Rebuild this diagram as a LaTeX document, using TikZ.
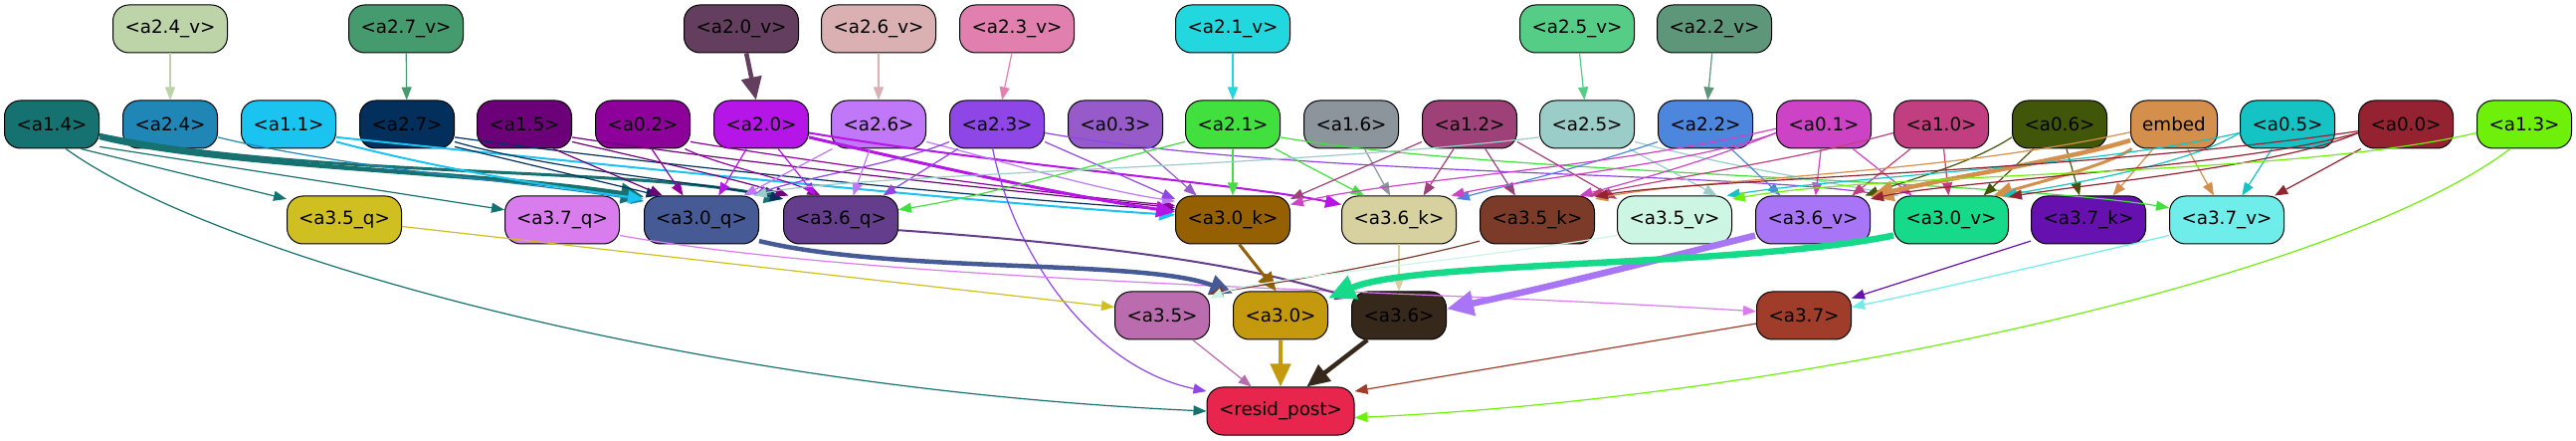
\documentclass[tikz,border=0pt]{standalone}
\usepackage{fontspec}
\setmainfont{DejaVu Sans}
\usetikzlibrary{arrows.meta}
\definecolor{c24v}{HTML}{BDD4A8}\definecolor{c27v}{HTML}{459A6E}\definecolor{c20v}{HTML}{633E5E}
\definecolor{c26v}{HTML}{DAB0B2}\definecolor{c23v}{HTML}{E17FAE}\definecolor{c21v}{HTML}{22D8DE}
\definecolor{c25v}{HTML}{55CD86}\definecolor{c22v}{HTML}{5E967A}
\definecolor{c14}{HTML}{167270}\definecolor{c24}{HTML}{1F86B5}\definecolor{c11}{HTML}{1BC3F0}
\definecolor{c27}{HTML}{022F5C}\definecolor{c15}{HTML}{6C0079}\definecolor{c02}{HTML}{8D0099}
\definecolor{c20}{HTML}{B515E6}\definecolor{c26}{HTML}{C077F8}\definecolor{c23}{HTML}{8E46E6}
\definecolor{c03}{HTML}{965BC8}\definecolor{c21}{HTML}{41E03F}\definecolor{c16}{HTML}{8C949C}
\definecolor{c12}{HTML}{9F4179}\definecolor{c25}{HTML}{9BCDC8}\definecolor{c22}{HTML}{4D86DD}
\definecolor{c01}{HTML}{CC44C5}\definecolor{c10}{HTML}{C13F81}\definecolor{c06}{HTML}{425609}
\definecolor{cem}{HTML}{D38F4B}\definecolor{c05}{HTML}{16C3C4}\definecolor{c00}{HTML}{952230}
\definecolor{c13}{HTML}{6EF00A}
\definecolor{c35q}{HTML}{CFBF20}\definecolor{c37q}{HTML}{D97CEE}\definecolor{c30q}{HTML}{465A96}
\definecolor{c36q}{HTML}{643E8C}\definecolor{c30k}{HTML}{956002}\definecolor{c36k}{HTML}{D7D1A0}
\definecolor{c35k}{HTML}{7B3B28}\definecolor{c35v}{HTML}{CDF5E4}\definecolor{c36v}{HTML}{A875F6}
\definecolor{c30v}{HTML}{17D98A}\definecolor{c37k}{HTML}{6610B0}\definecolor{c37v}{HTML}{6EEDEA}
\definecolor{c35}{HTML}{BB6CAE}\definecolor{c30}{HTML}{C5990E}\definecolor{c36}{HTML}{36291B}
\definecolor{c37}{HTML}{A03D2A}\definecolor{cres}{HTML}{E8254D}
\newcommand\nodefont{\fontsize{18.3pt}{22pt}\selectfont}
\tikzset{
 nd/.style={draw=black, line width=1pt, rounded corners=16pt, minimum height=48pt, inner sep=0pt, text=black, font=\nodefont},
 n95/.style={nd, minimum width=95pt},
 n115/.style={nd, minimum width=115pt},
 ea/.style={-{Triangle[length=13pt,width=10pt]}, line width=1.2pt},
 eb/.style={-{Triangle[length=16pt,width=13pt]}, line width=2pt},
 ec/.style={-{Triangle[length=19pt,width=16pt]}, line width=3pt},
 ed/.style={-{Triangle[length=23pt,width=20pt]}, line width=4.5pt},
 ee/.style={-{Triangle[length=27pt,width=24pt]}, line width=6.5pt},
}
\begin{document}
\begin{tikzpicture}[x=1pt,y=1pt]
\useasboundingbox (0,0) rectangle (2589,-443);
\fill[white] (0,0) rectangle (2589,-443);
% row 1
\node[n115,fill=c24v] (a24v) at (171,-29) {<a2.4\_v>};
\node[n115,fill=c27v] (a27v) at (408,-29) {<a2.7\_v>};
\node[n115,fill=c20v] (a20v) at (745,-29) {<a2.0\_v>};
\node[n115,fill=c26v] (a26v) at (883,-29) {<a2.6\_v>};
\node[n115,fill=c23v] (a23v) at (1022,-29) {<a2.3\_v>};
\node[n115,fill=c21v] (a21v) at (1239,-29) {<a2.1\_v>};
\node[n115,fill=c25v] (a25v) at (1585,-29) {<a2.5\_v>};
\node[n115,fill=c22v] (a22v) at (1723,-29) {<a2.2\_v>};
% row 2
\node[n95,fill=c14] (a14) at (52,-125) {<a1.4>};
\node[n95,fill=c24] (a24) at (171,-125) {<a2.4>};
\node[n95,fill=c11] (a11) at (290,-125) {<a1.1>};
\node[n95,fill=c27] (a27) at (409,-125) {<a2.7>};
\node[n95,fill=c15] (a15) at (527,-125) {<a1.5>};
\node[n95,fill=c02] (a02) at (646,-125) {<a0.2>};
\node[n95,fill=c20] (a20) at (765,-125) {<a2.0>};
\node[n95,fill=c26] (a26) at (883,-125) {<a2.6>};
\node[n95,fill=c23] (a23) at (1002,-125) {<a2.3>};
\node[n95,fill=c03] (a03) at (1121,-125) {<a0.3>};
\node[n95,fill=c21] (a21) at (1239,-125) {<a2.1>};
\node[n95,fill=c16] (a16) at (1358,-125) {<a1.6>};
\node[n95,fill=c12] (a12) at (1477,-125) {<a1.2>};
\node[n95,fill=c25] (a25) at (1595,-125) {<a2.5>};
\node[n95,fill=c22] (a22) at (1714,-125) {<a2.2>};
\node[n95,fill=c01] (a01) at (1833,-125) {<a0.1>};
\node[n95,fill=c10] (a10) at (1951,-125) {<a1.0>};
\node[n95,fill=c06] (a06) at (2070,-125) {<a0.6>};
\node[nd,minimum width=87pt,fill=cem] (emb) at (2185,-125) {embed};
\node[n95,fill=c05] (a05) at (2299,-125) {<a0.5>};
\node[n95,fill=c00] (a00) at (2418,-125) {<a0.0>};
\node[n95,fill=c13] (a13) at (2537,-125) {<a1.3>};
% row 3
\node[n115,fill=c35q] (a35q) at (346,-221) {<a3.5\_q>};
\node[n115,fill=c37q] (a37q) at (565,-221) {<a3.7\_q>};
\node[n115,fill=c30q] (a30q) at (705,-221) {<a3.0\_q>};
\node[n115,fill=c36q] (a36q) at (845,-221) {<a3.6\_q>};
\node[n115,fill=c30k] (a30k) at (1239,-221) {<a3.0\_k>};
\node[n115,fill=c36k] (a36k) at (1406,-221) {<a3.6\_k>};
\node[n115,fill=c35k] (a35k) at (1545,-221) {<a3.5\_k>};
\node[n115,fill=c35v] (a35v) at (1683,-221) {<a3.5\_v>};
\node[n115,fill=c36v] (a36v) at (1822,-221) {<a3.6\_v>};
\node[n115,fill=c30v] (a30v) at (1961,-221) {<a3.0\_v>};
\node[n115,fill=c37k] (a37k) at (2099,-221) {<a3.7\_k>};
\node[n115,fill=c37v] (a37v) at (2238,-221) {<a3.7\_v>};
% row 4
\node[n95,fill=c35] (a35) at (1168,-317) {<a3.5>};
\node[n95,fill=c30] (a30) at (1287,-317) {<a3.0>};
\node[n95,fill=c36] (a36) at (1406,-317) {<a3.6>};
\node[n95,fill=c37] (a37) at (1813,-317) {<a3.7>};
% row 5
\node[nd,minimum width=148pt,fill=cres] (res) at (1287,-413) {<resid\_post>};
% edges row1 -> row2
\draw[ea,color=c24v] (a24v) -- (a24);
\draw[ea,color=c27v] (a27v) -- (a27);
\draw[ed,color=c20v] (a20v) -- (a20);
\draw[ea,color=c26v] (a26v) -- (a26);
\draw[ea,color=c23v] (a23v) -- (a23);
\draw[ea,color=c21v] (a21v) -- (a21);
\draw[ea,color=c25v] (a25v) -- (a25);
\draw[ea,color=c22v] (a22v) -- (a22);
% a1.4
\draw[ea,color=c14] (a14.-40) -- (a35q.160);
\draw[ea,color=c14] (a14.-25) -- (a37q.170);
\draw[ed,color=c14] (a14.-15) .. controls (220,-168) and (480,-172) .. (a30q.158);
\draw[ec,color=c14] (a14.-12) .. controls (300,-178) and (640,-168) .. (a36q.160);
\draw[ea,color=c14] (a14.-60) .. controls (220,-260) and (700,-390) .. (res.180);
% a2.4, a1.1, a2.7
\draw[ea,color=c24] (a24.-15) .. controls (350,-170) and (550,-185) .. (a30q.162);
\draw[eb,color=c11] (a11.-20) .. controls (450,-172) and (560,-188) .. (a30q.160);
\draw[eb,color=c11] (a11.-15) .. controls (600,-165) and (1000,-205) .. (a30k.175);
\draw[ea,color=c27] (a27.-25) -- (a30q.150);
\draw[ea,color=c27] (a27.-20) .. controls (560,-172) and (720,-185) .. (a36q.160);
\draw[ea,color=c27] (a27.-15) .. controls (650,-165) and (1000,-200) .. (a30k.170);
% a1.5, a0.2
\draw[ea,color=c15] (a15.-40) -- (a30q.148);
\draw[ea,color=c15] (a15.-20) .. controls (650,-160) and (740,-180) .. (a36q.155);
\draw[ea,color=c15] (a15.-15) .. controls (750,-165) and (1050,-195) .. (a30k.168);
\draw[ea,color=c02] (a02.-70) -- (a30q.127);
\draw[ea,color=c02] (a02.-30) .. controls (720,-165) and (790,-180) .. (a36q.130);
\draw[ea,color=c02] (a02.-20) .. controls (800,-160) and (1050,-195) .. (a30k.166);
% a2.0
\draw[ea,color=c20] (a20) -- (a30q.55);
\draw[ea,color=c20] (a20.-55) -- (a36q.136);
\draw[ec,color=c20] (a20.-15) .. controls (950,-170) and (1080,-198) .. (a30k.172);
\draw[eb,color=c20] (a20.-10) .. controls (1000,-165) and (1250,-185) .. (a36k.165);
% a2.6
\draw[ea,color=c26] (a26) -- (a30q.30);
\draw[ea,color=c26] (a26) -- (a36q.63);
\draw[ea,color=c26] (a26.-20) .. controls (1000,-160) and (1100,-190) .. (a30k.162);
% a2.3
\draw[ea,color=c23] (a23.-160) .. controls (900,-165) and (800,-180) .. (a30q.25);
\draw[ea,color=c23] (a23) -- (a36q.30);
\draw[ea,color=c23] (a23.-20) -- (a30k.160);
\draw[ea,color=c23] (a23.-10) .. controls (1300,-178) and (1750,-172) .. (a30v.158);
\draw[ea,color=c23] (a23.-100) .. controls (1020,-260) and (1100,-370) .. (res.165);
% a0.3, a2.1, a1.6
\draw[ea,color=c03] (a03) -- (a30k.146);
\draw[ea,color=c21] (a21) -- (a30k);
\draw[ea,color=c21] (a21.-30) -- (a36k.145);
\draw[ea,color=c21] (a21.-160) .. controls (1100,-165) and (1000,-195) .. (a36q.10);
\draw[ea,color=c21] (a21.-15) .. controls (1500,-175) and (2000,-180) .. (a37v.168);
\draw[ea,color=c16] (a16) -- (a36k.110);
% a1.2
\draw[ea,color=c12] (a12.-160) -- (a30k.20);
\draw[ea,color=c12] (a12) -- (a36k.45);
\draw[ea,color=c12] (a12) -- (a35k.132);
\draw[ea,color=c12] (a12.-20) -- (a35v.160);
% a2.5, a2.2
\draw[ea,color=c25] (a25.-30) -- (a35v.30);
\draw[ea,color=c25] (a25.-20) .. controls (1750,-170) and (1850,-185) .. (a30v.155);
\draw[ea,color=c25] (a25.-165) .. controls (1300,-168) and (850,-175) .. (a30q.25);
\draw[ea,color=c22] (a22.-160) .. controls (1600,-165) and (1520,-185) .. (a36k.20);
\draw[ea,color=c22] (a22) -- (a36v.143);
% a0.1
\draw[ea,color=c01] (a01) -- (a36v);
\draw[ea,color=c01] (a01.-40) -- (a30v.148);
\draw[ea,color=c01] (a01.-170) .. controls (1720,-160) and (1650,-180) .. (a35k.30);
\draw[ea,color=c01] (a01.-170) .. controls (1700,-165) and (1530,-180) .. (a36k.25);
\draw[ea,color=c01] (a01.-175) .. controls (1600,-172) and (1400,-180) .. (a30k.15);
% a1.0
\draw[ea,color=c10] (a10) -- (a36v.32);
\draw[ea,color=c10] (a10) -- (a30v);
\draw[ea,color=c10] (a10.-170) .. controls (1800,-162) and (1680,-178) .. (a35k.25);
% a0.6
\draw[ea,color=c06] (a06.-165) .. controls (1980,-165) and (1920,-180) .. (a36v.25);
\draw[ea,color=c06] (a06) -- (a30v.37);
\draw[ea,color=c06] (a06) -- (a37k.110);
% embed
\draw[ed,color=cem] (emb.-160) .. controls (2080,-160) and (1950,-180) .. (a36v.22);
\draw[ec,color=cem] (emb.-150) .. controls (2120,-165) and (2060,-180) .. (a30v.30);
\draw[ea,color=cem] (emb) -- (a37k.45);
\draw[ea,color=cem] (emb) -- (a37v.118);
\draw[ea,color=cem] (emb.-170) .. controls (1950,-175) and (1700,-180) .. (a35k.20);
% a0.5
\draw[ea,color=c05] (a05) -- (a37v.58);
\draw[ea,color=c05] (a05.-170) .. controls (2200,-165) and (2080,-185) .. (a30v.25);
\draw[ea,color=c05] (a05.-170) .. controls (2100,-168) and (1850,-178) .. (a35v.25);
% a0.0
\draw[ea,color=c00] (a00) -- (a37v.27);
\draw[ea,color=c00] (a00.-170) .. controls (2300,-165) and (2100,-185) .. (a30v.22);
\draw[ea,color=c00] (a00.-170) .. controls (2250,-168) and (1960,-182) .. (a36v.20);
\draw[ea,color=c00] (a00.-172) .. controls (2100,-172) and (1700,-180) .. (a35k.22);
% a1.3
\draw[ea,color=c13] (a13.-170) .. controls (2300,-178) and (1900,-172) .. (a35v.20);
\draw[ea,color=c13] (a13.-120) .. controls (2350,-280) and (1800,-400) .. (res.-5);
% row 3 -> row 4
\draw[ea,color=c35q] (a35q) -- (a35.170);
\draw[ea,color=c37q] (a37q.-15) .. controls (900,-285) and (1400,-290) .. (a37.175);
\draw[ed,color=c30q] (a30q.-20) .. controls (900,-275) and (1150,-260) .. (a30.155);
\draw[eb,color=c36q] (a36q.-10) .. controls (1100,-245) and (1250,-265) .. (a36.160);
\draw[ec,color=c30k] (a30k.-75) -- (a30.100);
\draw[eb,color=c36k] (a36k) -- (a36);
\draw[ea,color=c35k] (a35k.-160) .. controls (1400,-265) and (1280,-285) .. (a35.25);
\draw[ea,color=c35v] (a35v.-165) .. controls (1450,-265) and (1260,-280) .. (a35.20);
\draw[ee,color=c36v] (a36v.-165) .. controls (1650,-265) and (1550,-290) .. (a36.8);
\draw[ee,color=c30v] (a30v.-165) .. controls (1750,-268) and (1420,-262) .. (a30.20);
\draw[ea,color=c37k] (a37k.-160) -- (a37.20);
\draw[ea,color=c37v] (a37v.-165) .. controls (2100,-255) and (1950,-290) .. (a37.10);
% row 4 -> resid
\draw[ea,color=c35] (a35) -- (res.140);
\draw[ed,color=c30] (a30) -- (res);
\draw[ed,color=c36] (a36) -- (res.43);
\draw[ea,color=c37] (a37) -- (res.15);
\end{tikzpicture}
\end{document}
